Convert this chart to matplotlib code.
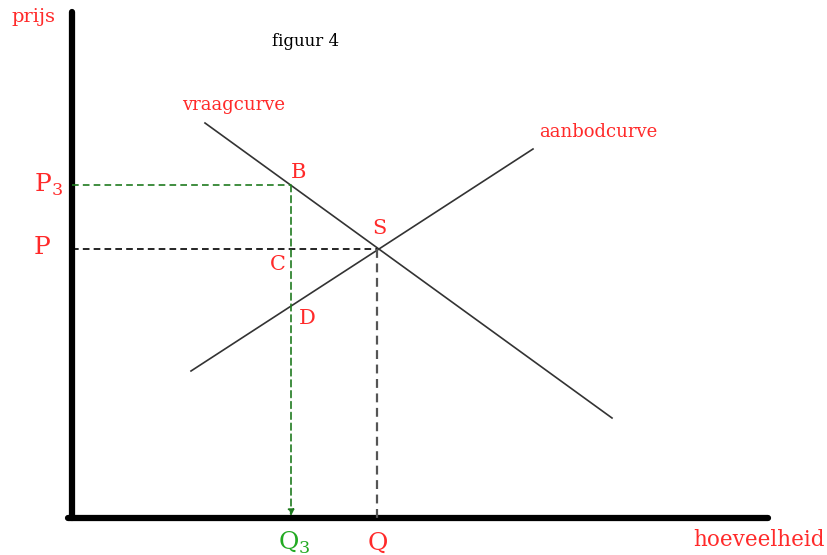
import matplotlib
matplotlib.use("Agg")
import matplotlib.pyplot as plt

plt.rcParams['font.family'] = ['DejaVu Serif']
plt.rcParams['mathtext.fontset'] = 'custom'
plt.rcParams['mathtext.rm'] = 'DejaVu Serif'

# curves (quantity, price) in chart units, origin at the axis corner
demand_q = [133, 540]
demand_p = [395, 100]
supply_q = [119, 461]
supply_p = [147, 369]

# equilibrium S and the price-ceiling point B
Q_eq, P_eq = 305, 269
Q3, P3 = 219, 333
D_p = 204   # supply price at Q3

fig = plt.figure(figsize=(8.27, 5.55), dpi=100)
ax = fig.add_axes([0, 0, 1, 1])
ax.set_xlim(-72, 755)
ax.set_ylim(-37, 518)
ax.axis('off')

red = '#ff2a2a'
green = '#1f7a1f'

# axes of the diagram
ax.plot([0, 0], [0, 506], color='black', lw=4.5, solid_capstyle='round')
ax.plot([-4, 696], [0, 0], color='black', lw=4.5, solid_capstyle='round')

# demand & supply
ax.plot(demand_q, demand_p, color='#333333', lw=1.2)
ax.plot(supply_q, supply_p, color='#333333', lw=1.2)

# equilibrium guides
ax.plot([0, Q_eq], [P_eq, P_eq], color='black', lw=1.2, ls=(0, (4, 2.5)))
ax.plot([Q_eq, Q_eq], [P_eq, 0], color='#555555', lw=1.6, ls=(0, (4, 2.5)))

# P3 / Q3 guides
ax.plot([0, Q3], [P3, P3], color=green, lw=1.2, ls=(0, (4, 2.5)))
ax.annotate('', xy=(Q3, 2), xytext=(Q3, P3),
            arrowprops=dict(arrowstyle='-|>', color=green, lw=1.2,
                            ls=(0, (4, 2.5)), mutation_scale=9,
                            shrinkA=0, shrinkB=0))

# texts
ax.text(-39, 501, 'prijs', color=red, fontsize=14, ha='center', va='center')
ax.text(234, 476, 'figuur 4', color='black', fontsize=12, ha='center', va='center')
ax.text(162, 413, 'vraagcurve', color=red, fontsize=13, ha='center', va='center')
ax.text(526, 386, 'aanbodcurve', color=red, fontsize=13, ha='center', va='center')
ax.text(-24, P3, r'P$_\mathrm{3}$', color=red, fontsize=18, ha='center', va='center')
ax.text(-30, P_eq + 2, 'P', color=red, fontsize=18, ha='center', va='center')
ax.text(Q3 + 3, -25, r'Q$_\mathrm{3}$', color='#22aa22', fontsize=18, ha='center', va='center')
ax.text(Q_eq + 1, -25, 'Q', color=red, fontsize=18, ha='center', va='center')
ax.text(687, -22, 'hoeveelheid', color=red, fontsize=15.5, ha='center', va='center')

ax.text(Q3 + 8, 346, 'B', color=red, fontsize=15, ha='center', va='center')
ax.text(Q_eq + 2, 290, 'S', color=red, fontsize=15, ha='center', va='center')
ax.text(Q3 - 13, 253, 'C', color=red, fontsize=15, ha='center', va='center')
ax.text(Q3 + 16, D_p - 4, 'D', color=red, fontsize=15, ha='center', va='center')

fig.savefig('out.png', dpi=100)
